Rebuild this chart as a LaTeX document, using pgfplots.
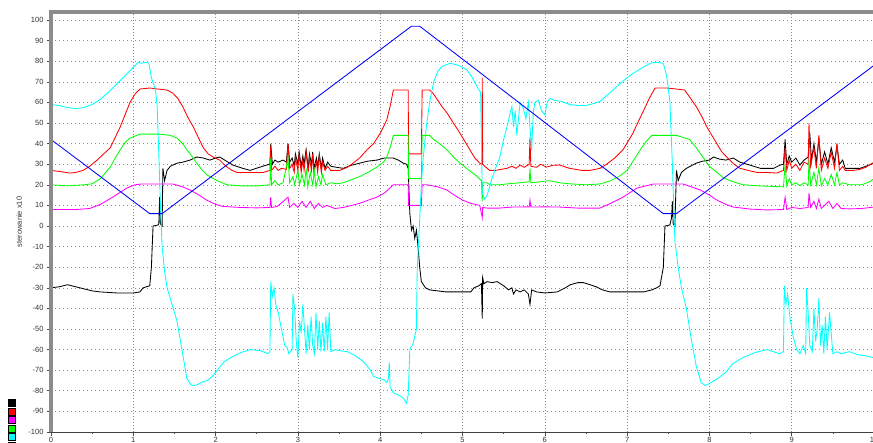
\documentclass[border=0pt]{standalone}
\usepackage{fontspec}
\setmainfont{Liberation Sans}
\usepackage{pgfplots}
\pgfplotsset{compat=1.18}
\definecolor{cyn}{RGB}{0,255,255}
\definecolor{mgt}{RGB}{255,0,255}
\definecolor{grn}{RGB}{0,255,0}
\definecolor{rd}{RGB}{255,0,0}
\definecolor{bl}{RGB}{0,0,255}
\begin{document}
\begin{tikzpicture}
\begin{axis}[
  scale only axis, width=823pt, height=420pt,
  xmin=0, xmax=10, ymin=-100, ymax=103.9,
  xtick={0,1,...,10}, ytick={-100,-90,...,100},
  minor x tick num=1, minor y tick num=1,
  tick pos=left, tick align=outside,
  major tick length=4pt, minor tick length=2pt,
  every tick/.style={black!70, line width=0.6pt},
  /pgf/number format/assume math mode=true,
  tick label style={font=\fontsize{7.5}{8}\selectfont, text=black!80},
  xticklabel style={yshift=2.5pt},
  ylabel={sterowanie x10},
  ylabel style={font=\fontsize{7.5}{8}\selectfont, text=black!80, at={(axis description cs:-0.031,0.5)}, anchor=south},
  axis line style={draw=none},
  grid=major,
  major x grid style={black!45, line width=0.6pt, dash pattern=on 0.8pt off 2.2pt},
  major y grid style={black!45, line width=0.6pt, dash pattern=on 0.8pt off 3.2pt},
  no markers, sharp plot,
  every axis plot/.append style={line width=0.85pt},
  legend image code/.code={\draw[draw=black, fill, line width=0.4pt, sharp corners, solid] (0pt,-3.5pt) rectangle (7pt,3.5pt);},
  legend style={at={(0,0)}, anchor=north west, xshift=-42.7pt, yshift=33pt, draw=none, fill=none, inner sep=0pt, row sep=1.1pt, nodes={inner sep=0pt}},
]
\coordinate (SW) at (rel axis cs:0,0);
\coordinate (SE) at (rel axis cs:1,0);
\coordinate (NW) at (rel axis cs:0,1);
\coordinate (NE) at (rel axis cs:1,1);
% black
\addplot[black] coordinates {(0,-30) (0.1,-29.5) (0.2,-28.5) (0.3,-29.5) (0.4,-30.5) (0.5,-31.5) (0.6,-32) (0.8,-32.5) (1.0,-32.5) (1.08,-32) (1.12,-30) (1.2,-29) (1.22,-20) (1.24,0) (1.3,0.5) (1.31,1) (1.32,14) (1.33,1) (1.35,0) (1.36,28) (1.38,22) (1.41,27) (1.45,29) (1.53,30.5) (1.6,31) (1.69,32) (1.77,33.5) (1.85,33) (1.93,32) (2.0,33) (2.05,33.5) (2.11,32) (2.21,29.6) (2.33,28) (2.42,27) (2.54,28.6) (2.62,29.6) (2.66,30) (2.67,40) (2.69,30) (2.72,32) (2.76,31) (2.82,32) (2.86,31) (2.88,40) (2.9,31) (2.93,33) (2.955,29) (2.97,35) (3.0,30) (3.015,36) (3.04,29) (3.06,34) (3.075,30) (3.1,37) (3.125,28) (3.14,35) (3.165,30) (3.18,36) (3.195,28) (3.225,33) (3.24,29) (3.26,35) (3.285,28) (3.3,33) (3.33,28) (3.36,31) (3.4,29) (3.47,28.5) (3.55,28) (3.65,29.5) (3.75,30.5) (3.85,31.5) (3.96,32) (4.05,33) (4.16,33) (4.22,32) (4.28,30.5) (4.32,30) (4.34,28) (4.36,6) (4.38,-2) (4.4,0) (4.42,-6) (4.44,-2) (4.46,-10) (4.48,-20) (4.5,-27) (4.55,-30) (4.6,-31) (4.8,-32) (5.0,-32) (5.1,-32) (5.14,-30) (5.2,-29) (5.23,-28) (5.24,-45) (5.245,-25) (5.26,-28) (5.3,-27) (5.36,-27.5) (5.42,-27) (5.5,-29) (5.56,-31) (5.6,-30) (5.62,-33) (5.65,-31) (5.7,-32) (5.75,-31) (5.8,-33) (5.82,-38) (5.84,-31) (5.9,-32) (6.0,-32.5) (6.15,-32) (6.25,-30) (6.31,-28.5) (6.4,-27.5) (6.47,-27.5) (6.55,-28.5) (6.63,-29.6) (6.7,-31) (6.79,-32) (7.0,-32) (7.2,-32) (7.3,-31) (7.36,-30) (7.4,-29) (7.44,-20) (7.46,0) (7.52,0.5) (7.54,4) (7.55,12) (7.56,1) (7.58,0) (7.6,27) (7.62,22) (7.66,26) (7.72,28) (7.84,30.5) (7.92,31.5) (8.0,32) (8.05,33.5) (8.12,32.5) (8.2,32) (8.29,33) (8.37,31) (8.49,29.6) (8.62,28) (8.78,28) (8.86,29.6) (8.9,30) (8.92,42) (8.94,30) (8.97,34) (9.0,31) (9.05,33) (9.1,29.6) (9.15,32) (9.2,33.5) (9.22,45) (9.24,32) (9.27,40) (9.3,31) (9.33,42) (9.36,30) (9.4,36) (9.44,30) (9.48,38) (9.52,31) (9.55,39) (9.58,30) (9.62,32) (9.65,28) (9.75,28) (9.83,28) (9.9,29) (10,30.5)};
\addlegendentry{\mbox{}}
% red
\addplot[rd] coordinates {(0,27) (0.1,26.5) (0.23,25.7) (0.3,26) (0.39,27) (0.47,29) (0.56,32) (0.64,35) (0.72,38) (0.78,43) (0.84,48) (0.9,54) (0.96,60) (1.02,64) (1.08,66.5) (1.2,67) (1.3,66.5) (1.41,66) (1.48,64.5) (1.54,62) (1.6,58) (1.66,53) (1.73,48) (1.79,43) (1.85,38) (1.91,35) (1.97,33.5) (2.05,32) (2.1,30) (2.14,28.6) (2.2,27) (2.26,26) (2.42,26) (2.58,26) (2.66,27) (2.67,39) (2.68,27) (2.72,29) (2.76,27) (2.8,28) (2.86,27.5) (2.88,40) (2.9,28) (2.93,30) (2.955,26) (2.97,33) (3.0,27) (3.015,35) (3.04,26) (3.06,32) (3.075,27) (3.1,36) (3.125,26) (3.14,33) (3.165,27) (3.18,35) (3.195,26) (3.225,31) (3.24,26) (3.26,34) (3.285,26) (3.3,31) (3.33,27) (3.36,29) (3.4,27) (3.47,27) (3.51,27) (3.6,28.5) (3.67,30.5) (3.75,33) (3.84,37) (3.92,40) (4.0,45) (4.08,51.5) (4.12,58) (4.16,66) (4.34,66) (4.345,35) (4.5,35) (4.51,66) (4.6,66) (4.64,64.5) (4.7,61) (4.75,58) (4.81,55) (4.89,50) (4.97,45) (5.03,41) (5.09,37) (5.15,33) (5.21,30.5) (5.235,30) (5.24,72) (5.245,30) (5.27,29) (5.33,27) (5.4,27) (5.47,27.5) (5.54,28) (5.6,29) (5.65,28) (5.7,29.6) (5.75,28.5) (5.81,30) (5.82,43) (5.83,29) (5.9,28.5) (5.95,30) (6.02,28.6) (6.1,29.5) (6.18,29.6) (6.3,28) (6.45,27) (6.55,27) (6.67,28) (6.75,30) (6.85,33) (6.95,37) (7.01,41) (7.07,45) (7.14,51) (7.2,56) (7.27,62) (7.34,67) (7.48,67) (7.6,66.5) (7.7,66) (7.77,62) (7.84,58) (7.91,53) (7.97,48) (8.03,44) (8.09,40) (8.15,36) (8.21,33.5) (8.3,30) (8.37,28) (8.47,27) (8.58,26) (8.7,26) (8.82,25.7) (8.9,27) (8.92,38) (8.94,27) (8.97,32) (9.0,28) (9.05,30) (9.1,27) (9.15,31) (9.2,30) (9.21,50) (9.23,29) (9.27,38) (9.3,28) (9.33,44) (9.36,27) (9.4,33) (9.44,28) (9.48,36) (9.52,28) (9.55,40) (9.58,27) (9.62,29) (9.65,27) (9.75,27) (9.83,27.5) (9.9,28.5) (10,31)};
\addlegendentry{\mbox{}}
% magenta
\addplot[mgt] coordinates {(0,8) (0.3,8) (0.47,8.5) (0.6,10.5) (0.75,14) (0.92,18.4) (1.02,20) (1.1,20.4) (1.48,20.4) (1.6,19) (1.69,17.5) (1.8,15) (1.89,12.6) (2.0,10.5) (2.09,9.5) (2.3,9) (2.5,8.8) (2.66,9) (2.67,14) (2.68,9) (2.75,9.5) (2.88,14) (2.9,9) (2.95,11) (3.0,9) (3.05,12) (3.1,9) (3.15,12) (3.2,8.5) (3.25,11) (3.3,9) (3.35,10) (3.45,8.5) (3.55,9) (3.65,10) (3.75,11) (3.85,12.5) (3.96,14) (4.05,16) (4.12,18.5) (4.16,20) (4.34,20) (4.345,10) (4.5,10) (4.51,20) (4.57,20) (4.7,19) (4.81,17.5) (4.9,15) (5.0,12.6) (5.1,11) (5.21,10) (5.24,4) (5.245,9) (5.3,8.7) (5.45,8.7) (5.6,9.2) (5.81,9.3) (5.82,12.6) (5.83,9.2) (6.0,9.3) (6.18,9.2) (6.4,8.7) (6.67,8.7) (6.8,11) (6.95,14) (7.12,18.4) (7.32,20.4) (7.68,20.4) (7.78,19) (7.89,17.5) (8.0,15) (8.09,12.6) (8.2,10.5) (8.29,9.2) (8.5,8.2) (8.7,7.8) (8.9,8) (8.92,14) (8.94,8) (9.0,9) (9.1,8.5) (9.2,9) (9.21,16) (9.23,9) (9.27,12) (9.3,8.5) (9.33,13) (9.36,8.5) (9.45,12) (9.5,8.5) (9.55,11) (9.6,8.5) (9.7,8.3) (9.85,8.5) (10,9.2)};
\addlegendentry{\mbox{}}
% green
\addplot[grn] coordinates {(0,20) (0.2,19.5) (0.4,20) (0.5,20.5) (0.6,23) (0.72,28.6) (0.78,33) (0.84,37) (0.9,40.5) (0.96,42.7) (1.08,44.6) (1.32,44.6) (1.45,44) (1.53,42.7) (1.6,40) (1.65,37) (1.71,34) (1.77,30.5) (1.84,27) (1.9,24.7) (2.02,22) (2.14,20) (2.3,19.5) (2.5,19.5) (2.66,20) (2.67,33) (2.68,20) (2.72,22) (2.76,20) (2.82,21) (2.88,33) (2.9,21) (2.94,24) (2.96,20) (3.0,27) (3.02,20) (3.05,25) (3.08,20) (3.1,28) (3.12,19) (3.15,26) (3.18,20) (3.2,27) (3.22,19) (3.25,24) (3.28,20) (3.3,25) (3.34,20) (3.4,21) (3.47,20.5) (3.55,21) (3.65,22.5) (3.75,24) (3.85,26) (3.96,28.6) (4.04,31) (4.08,33.5) (4.12,38) (4.16,44) (4.34,44) (4.345,23) (4.5,23) (4.51,44) (4.6,44) (4.65,42) (4.72,40) (4.81,37) (4.89,33.5) (4.97,30.5) (5.08,27) (5.18,24) (5.23,22) (5.24,12) (5.245,21) (5.3,21) (5.33,20) (5.45,20) (5.55,20.5) (5.7,21) (5.81,21.5) (5.82,28) (5.83,21) (5.95,21.5) (6.05,22) (6.18,21) (6.3,20.5) (6.5,20) (6.67,20.4) (6.8,22) (6.9,24) (7.0,27) (7.08,32) (7.16,37) (7.23,41) (7.3,44) (7.6,44) (7.68,43) (7.76,42) (7.84,38) (7.92,33.5) (8.0,29) (8.09,26) (8.17,23.5) (8.25,22) (8.41,20) (8.6,19.5) (8.9,19) (8.92,30) (8.94,19.5) (8.97,23) (9.0,20) (9.05,21) (9.1,19.5) (9.15,21) (9.2,20) (9.21,32) (9.23,20) (9.27,26) (9.3,20) (9.33,28) (9.36,19.5) (9.4,23) (9.44,20) (9.48,25) (9.52,20) (9.55,26) (9.58,20) (9.62,21) (9.7,20) (9.85,20) (9.95,21.5) (10,23)};
\addlegendentry{\mbox{}}
% cyan
\addplot[cyn] coordinates {(0,59) (0.1,58.5) (0.2,57.5) (0.3,57) (0.4,57.5) (0.5,59) (0.6,61.5) (0.7,65) (0.8,69) (0.9,73) (1.0,77) (1.06,79.5) (1.1,79) (1.15,79.5) (1.19,79) (1.22,72) (1.27,66) (1.29,58) (1.31,35) (1.33,10) (1.35,-10) (1.38,-22) (1.41,-30) (1.47,-38) (1.53,-46) (1.6,-62) (1.65,-74) (1.7,-77) (1.73,-77.5) (1.78,-77) (1.85,-75.5) (1.9,-75) (1.96,-73) (2.02,-70) (2.1,-66) (2.18,-64) (2.3,-61.5) (2.42,-60) (2.54,-60.5) (2.64,-62) (2.66,-61) (2.67,-27) (2.69,-34) (2.71,-30) (2.73,-38) (2.76,-42) (2.8,-50) (2.84,-58) (2.87,-59) (2.89,-62) (2.93,-60) (2.94,-33) (2.96,-40) (2.98,-56) (3.0,-64) (3.02,-46) (3.04,-52) (3.06,-38) (3.08,-50) (3.1,-62) (3.12,-48) (3.14,-60) (3.16,-44) (3.18,-58) (3.2,-62) (3.22,-42) (3.24,-60) (3.26,-46) (3.28,-61) (3.3,-47) (3.32,-61) (3.34,-44) (3.36,-60) (3.38,-42) (3.4,-61) (3.45,-60) (3.5,-60.5) (3.6,-61) (3.7,-63) (3.8,-66) (3.88,-70) (3.92,-73) (3.98,-74) (4.04,-74.5) (4.08,-76) (4.1,-74) (4.11,-66) (4.12,-78) (4.16,-81) (4.22,-82) (4.28,-83.5) (4.32,-86) (4.34,-82) (4.36,-60) (4.4,-57) (4.44,-50) (4.45,-21) (4.47,-5) (4.5,20) (4.52,32) (4.56,48) (4.6,60) (4.65,70) (4.7,75) (4.75,77.5) (4.85,79) (4.95,78) (5.05,76) (5.12,72) (5.2,66) (5.22,65) (5.24,16) (5.27,13) (5.3,15) (5.35,22) (5.4,28) (5.45,33) (5.5,42) (5.54,48) (5.58,55) (5.6,58) (5.62,48) (5.64,56) (5.66,44) (5.7,60) (5.74,57) (5.77,52) (5.8,60) (5.82,48) (5.84,37) (5.86,55) (5.88,60) (5.92,61) (5.96,56) (6.0,54) (6.03,60) (6.06,62) (6.12,61) (6.2,60.5) (6.3,59) (6.4,58.5) (6.5,58.5) (6.6,59.5) (6.67,60.5) (6.8,65) (6.91,69) (7.0,72) (7.07,74) (7.15,76) (7.28,79) (7.35,79.5) (7.44,79) (7.48,73) (7.5,67) (7.52,60) (7.55,30) (7.58,-7) (7.62,-20) (7.66,-30) (7.72,-40) (7.78,-55) (7.84,-68) (7.9,-76) (7.95,-77.5) (8.02,-76) (8.1,-74) (8.2,-71) (8.28,-67) (8.4,-64) (8.55,-61.5) (8.7,-60) (8.85,-62) (8.9,-61) (8.91,-29) (8.93,-38) (8.95,-33) (8.98,-45) (9.02,-54) (9.06,-60) (9.1,-62) (9.14,-58) (9.17,-62) (9.18,-30) (9.2,-42) (9.22,-58) (9.25,-61) (9.27,-40) (9.29,-56) (9.31,-50) (9.33,-35) (9.35,-58) (9.37,-48) (9.39,-62) (9.41,-44) (9.43,-60) (9.46,-42) (9.5,-62) (9.55,-61) (9.6,-62) (9.7,-61) (9.8,-62.5) (9.9,-63) (10,-64)};
\addlegendentry{\mbox{}}
% blue
\addplot[bl] coordinates {(0,42) (1.2,6) (1.35,6) (4.38,97) (4.48,97) (7.44,6) (7.6,6) (10,78)};
\addlegendentry{\mbox{}}
\end{axis}
\draw[black!75, line width=0.8pt] (SW) -- (SE);
\draw[black!45, line width=4pt] (SW) -- (NW) -- (NE);
\pgfresetboundingbox
\useasboundingbox ([shift={(-51pt,-11pt)}]SW) rectangle ([shift={(822pt,432pt)}]SW);
\end{tikzpicture}
\end{document}
